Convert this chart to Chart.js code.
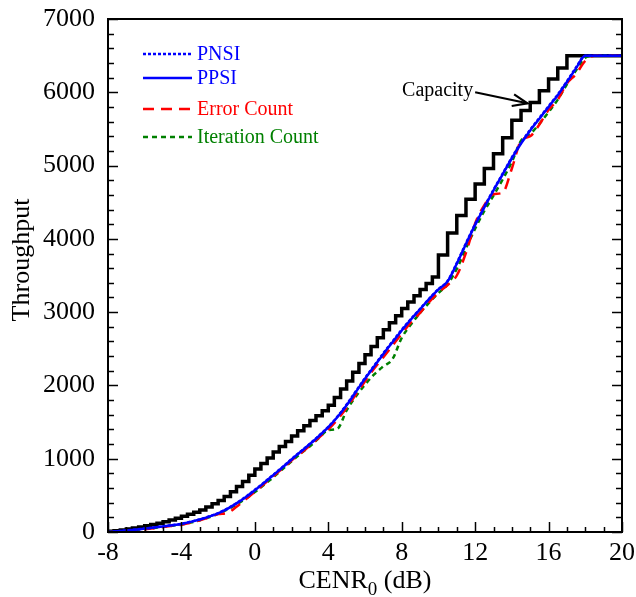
<!DOCTYPE html>
<html><head><meta charset="utf-8">
<script src="https://cdn.jsdelivr.net/npm/chart.js@4.4.0/dist/chart.umd.min.js"></script>
<style>html,body{margin:0;padding:0;background:#fff;}</style>
</head><body>
<canvas id="c" width="636" height="597"></canvas>
<script>
// ---- data ----
const snr = [-8,-7.5,-7,-6.5,-6,-5.5,-5,-4.5,-4,-3.5,-3,-2.5,-2,-1.5,-1,-0.5,0,0.5,1,1.5,2,2.5,3,3.5,4,4.5,5,5.5,6,6.5,7,7.5,8,8.5,9,9.5,10,10.5,11,11.5,12,12.5,13,13.5,14,14.5,15,15.5,16,16.5,17,17.5,18,18.5,19,19.5,20];
const ppsi = [0,10,20,32,46,60,76,92,110,138,170,210,255,315,390,475,570,670,775,880,990,1095,1200,1310,1430,1570,1730,1910,2090,2260,2430,2590,2750,2900,3040,3180,3310,3420,3660,3930,4190,4430,4660,4880,5100,5300,5480,5640,5800,5960,6140,6330,6500,6500,6500,6500,6500];
const pnsi = [0,10,21,33,47,61,77,94,112,140,172,212,258,318,393,480,575,675,780,885,995,1100,1205,1315,1435,1575,1740,1920,2100,2270,2440,2600,2760,2905,3045,3185,3315,3425,3670,3940,4200,4440,4670,4890,5110,5310,5490,5650,5810,5970,6150,6340,6500,6500,6500,6500,6500];
const errorCount = [0,5,13,24,37,52,68,84,100,125,158,198,245,260,345,445,550,655,760,865,975,1075,1180,1290,1400,1535,1695,1875,2055,2230,2385,2545,2705,2860,2990,3140,3270,3370,3500,3810,4210,4460,4610,4630,4960,5340,5400,5560,5760,5900,6120,6250,6430,6500,6500,6500,6500];
const iterationCount = [0,6,15,26,40,54,70,86,102,128,160,200,248,305,375,455,545,645,745,855,965,1070,1170,1285,1390,1410,1660,1850,2010,2150,2260,2360,2650,2830,2990,3130,3260,3380,3590,3870,4140,4380,4590,4810,5050,5340,5430,5570,5730,5900,6110,6300,6470,6500,6500,6500,6500];
const capSnr = [-8,-7.67,-7.33,-7,-6.67,-6.33,-6,-5.67,-5.33,-5,-4.67,-4.33,-4,-3.67,-3.33,-3,-2.67,-2.33,-2,-1.67,-1.33,-1,-0.67,-0.33,0,0.33,0.67,1,1.33,1.67,2,2.33,2.67,3,3.33,3.67,4,4.33,4.67,5,5.33,5.67,6,6.33,6.67,7,7.33,7.67,8,8.33,8.67,9,9.33,9.67,10,10.5,11,11.5,12,12.5,13,13.5,14,14.5,15,15.5,16,16.5,17,20];
const capacity = [10,18,27,40,53,68,85,101,120,140,163,188,215,242,270,300,340,385,430,485,550,620,690,775,860,935,1010,1090,1165,1235,1310,1380,1450,1520,1585,1655,1730,1835,1950,2060,2180,2300,2420,2530,2650,2760,2855,2950,3050,3140,3225,3310,3390,3480,3780,4080,4320,4540,4750,4960,5160,5380,5620,5750,5860,6020,6180,6330,6500,6500];
const xTicks = [-8,-4,0,4,8,12,16,20];
const yTicks = [0,1000,2000,3000,4000,5000,6000,7000];
const capacityLabel = 'Capacity';
const capacityArrow = {from:[12.0,6000], to:[14.85,5850]};

const pts = (xs, ys) => xs.map((x,i)=>({x:x,y:ys[i]}));
const SERIF = '"Liberation Serif","DejaVu Serif","Times New Roman",serif';

const datasets = [
  {label:'PNSI', data:pts(snr,pnsi), borderColor:'#0000ff', borderWidth:2.5, borderDash:[3,2], order:1, cubicInterpolationMode:'monotone'},
  {label:'PPSI', data:pts(snr,ppsi), borderColor:'#0000ff', borderWidth:2.5, borderDash:[], order:2, cubicInterpolationMode:'monotone'},
  {label:'Error Count', data:pts(snr,errorCount), borderColor:'#ff0000', borderWidth:2.5, borderDash:[11,7], order:3, cubicInterpolationMode:'monotone'},
  {label:'Iteration Count', data:pts(snr,iterationCount), borderColor:'#008000', borderWidth:2.5, borderDash:[5,4], order:4, cubicInterpolationMode:'monotone'},
  {label:'Capacity', data:pts(capSnr,capacity), borderColor:'#000000', borderWidth:3.5, stepped:'before', order:5, noLegend:true}
];
datasets.forEach(d=>{d.pointRadius=0; d.fill=false; d.backgroundColor=d.borderColor;});

const decor = {
  id:'decor',
  afterDraw(chart){
    const ctx = chart.ctx, a = chart.chartArea, xs = chart.scales.x, ys = chart.scales.y;
    ctx.save();
    ctx.strokeStyle='#000'; ctx.lineWidth=1.5;
    for(let v=-8; v<=20; v+=1){
      const px = Math.round(xs.getPixelForValue(v))+0.5;
      const len = (v%4===0)?10:5;
      ctx.beginPath(); ctx.moveTo(px,a.bottom); ctx.lineTo(px,a.bottom-len); ctx.stroke();
    }
    for(let v=0; v<=7000; v+=200){
      const py = Math.round(ys.getPixelForValue(v))+0.5;
      const len = (v%1000===0)?10:6;
      ctx.beginPath(); ctx.moveTo(a.left,py); ctx.lineTo(a.left+len,py); ctx.stroke();
      ctx.beginPath(); ctx.moveTo(a.right,py); ctx.lineTo(a.right-len,py); ctx.stroke();
    }
    ctx.lineWidth=2;
    ctx.strokeRect(a.left, a.top, a.right-a.left, a.bottom-a.top);

    // legend
    const rows=[54,78,109,137];
    let r=0;
    chart.data.datasets.forEach(d=>{
      if(d.noLegend) return;
      const y=rows[r++];
      ctx.beginPath(); ctx.setLineDash(d.borderDash||[]); ctx.lineWidth=d.borderWidth; ctx.strokeStyle=d.borderColor;
      ctx.moveTo(143,y); ctx.lineTo(192,y); ctx.stroke(); ctx.setLineDash([]);
      ctx.fillStyle=d.borderColor; ctx.font='20px '+SERIF; ctx.textAlign='left'; ctx.textBaseline='middle';
      ctx.fillText(d.label,197,y+1);
    });

    // capacity annotation
    const fx=xs.getPixelForValue(capacityArrow.from[0]), fy=ys.getPixelForValue(capacityArrow.from[1]);
    const tx=xs.getPixelForValue(capacityArrow.to[0]), ty=ys.getPixelForValue(capacityArrow.to[1]);
    ctx.strokeStyle='#000'; ctx.lineWidth=2.2;
    ctx.beginPath(); ctx.moveTo(fx,fy); ctx.lineTo(tx,ty); ctx.stroke();
    const ang=Math.atan2(ty-fy,tx-fx), hl=16, hw=0.38;
    ctx.beginPath();
    ctx.moveTo(tx-hl*Math.cos(ang-hw), ty-hl*Math.sin(ang-hw));
    ctx.lineTo(tx,ty);
    ctx.lineTo(tx-hl*Math.cos(ang+hw), ty-hl*Math.sin(ang+hw));
    ctx.stroke();
    ctx.fillStyle='#000'; ctx.font='20px '+SERIF; ctx.textAlign='right'; ctx.textBaseline='middle';
    ctx.fillText(capacityLabel, fx-2, fy-2);

    // x title with subscript
    ctx.textBaseline='alphabetic'; ctx.textAlign='left';
    const big='26px '+SERIF, small='19px '+SERIF;
    ctx.font=big; const w1=ctx.measureText('CENR').width, w3=ctx.measureText(' (dB)').width;
    ctx.font=small; const w2=ctx.measureText('0').width;
    const cx=(a.left+a.right)/2; let sx=cx-(w1+w2+w3)/2; const by=588;
    ctx.font=big; ctx.fillText('CENR',sx,by); sx+=w1;
    ctx.font=small; ctx.fillText('0',sx,by+7); sx+=w2;
    ctx.font=big; ctx.fillText(' (dB)',sx,by);

    // y title
    ctx.save(); ctx.translate(22,260); ctx.rotate(-Math.PI/2);
    ctx.font=big; ctx.textAlign='center'; ctx.textBaseline='middle';
    ctx.fillText('Throughput',0,0);
    ctx.restore();
    ctx.restore();
  }
};

const noPad = (s)=>{s.paddingTop=0; s.paddingBottom=0; s.paddingLeft=0; s.paddingRight=0;};

new Chart(document.getElementById('c'), {
  type:'line',
  data:{datasets:datasets},
  options:{
    responsive:false, animation:false, devicePixelRatio:1,
    layout:{padding:{top:19,right:14,left:0,bottom:0}},
    plugins:{legend:{display:false}, tooltip:{enabled:false}},
    scales:{
      x:{type:'linear', min:-8, max:20,
        afterBuildTicks:(s)=>{s.ticks=xTicks.map(v=>({value:v}));},
        afterFit:(s)=>{s.height=65; noPad(s);},
        ticks:{callback:(v)=>String(v), color:'#000', font:{family:SERIF,size:26}, padding:6, maxRotation:0, autoSkip:false},
        grid:{display:false, drawTicks:false}, border:{display:false}},
      y:{type:'linear', min:0, max:7000,
        afterBuildTicks:(s)=>{s.ticks=yTicks.map(v=>({value:v}));},
        afterFit:(s)=>{s.width=108; noPad(s);},
        ticks:{callback:(v)=>String(v), color:'#000', font:{family:SERIF,size:26}, padding:13, autoSkip:false},
        grid:{display:false, drawTicks:false}, border:{display:false}}
    }
  },
  plugins:[decor]
});
</script>
</body></html>
